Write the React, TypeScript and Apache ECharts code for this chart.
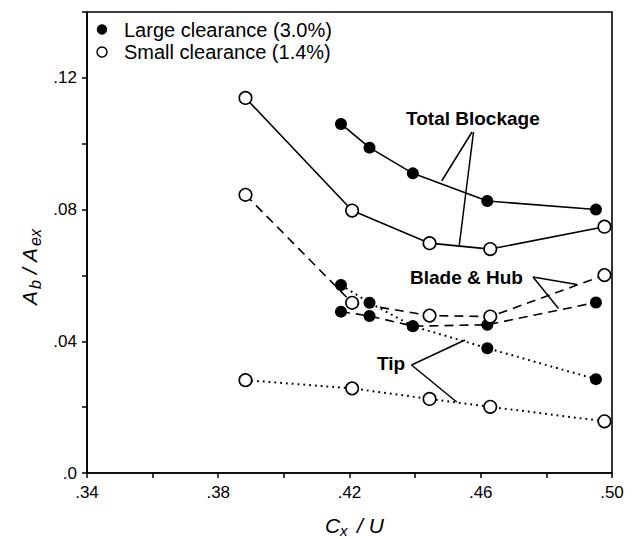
import React, { useEffect, useRef } from "react";
import * as echarts from "echarts";

// Data
const largeX = [0.4174, 0.4261, 0.4393, 0.462, 0.4951];
const smallX = [0.3883, 0.4208, 0.4444, 0.4629, 0.4977];
const largeTotal = [0.106, 0.0988, 0.091, 0.0826, 0.08];
const smallTotal = [0.1139, 0.0797, 0.0698, 0.068, 0.0748];
const largeBladeHub = [0.049, 0.0477, 0.0446, 0.045, 0.0518];
const smallBladeHub = [0.0845, 0.0517, 0.0478, 0.0475, 0.0601];
const largeTip = [0.0571, 0.0517, 0.0446, 0.0379, 0.0285];
const smallTip = [0.0282, 0.0257, 0.0225, 0.0201, 0.0157];

const legendLabels = ["Large clearance (3.0%)", "Small clearance (1.4%)"];
const annotationLabels = ["Total Blockage", "Blade & Hub", "Tip"];

const FONT = '"Liberation Sans", Arial, Helvetica, sans-serif';

const SOLID = "solid";
const DASHED = [9, 6];
const DOTTED = [1.8, 4];

function mk(name: string, xs: number[], ys: number[], dash: any, filled: boolean, z: number) {
  return {
    type: "line",
    name,
    data: xs.map((x, i) => [x, ys[i]]),
    symbol: "circle",
    symbolSize: filled ? 12 : 12.5,
    showAllSymbol: true,
    z,
    lineStyle: { color: "#000", width: dash === DOTTED ? 2 : 1.6, type: dash },
    itemStyle: {
      color: filled ? "#000" : "#fff",
      borderColor: "#000",
      borderWidth: filled ? 0 : 1.6,
      opacity: 1,
    },
    emphasis: { disabled: true },
  };
}

function leader(x1: number, y1: number, x2: number, y2: number) {
  return {
    type: "line",
    shape: { x1, y1, x2, y2 },
    style: { stroke: "#000", lineWidth: 1.5 },
    z: 100,
  };
}

export default function App() {
  const ref = useRef<HTMLDivElement>(null);
  useEffect(() => {
    if (!ref.current) return;
    const chart = echarts.init(ref.current, undefined, { renderer: "svg" });
    const option: any = {
      animation: false,
      backgroundColor: "#fff",
      grid: {
        left: 87,
        right: 20,
        top: 12,
        bottom: 66,
        show: true,
        borderColor: "#000",
        borderWidth: 1.6,
        backgroundColor: "transparent",
      },
      xAxis: {
        type: "value",
        min: 0.34,
        max: 0.5,
        interval: 0.02,
        splitLine: { show: false },
        axisLine: { show: true, lineStyle: { color: "#000", width: 1.6 } },
        axisTick: { show: true, inside: false, length: 5, lineStyle: { color: "#000", width: 1.5 } },
        axisLabel: {
          margin: 11,
          color: "#000",
          fontSize: 17,
          fontFamily: FONT,
          showMaxLabel: true,
          showMinLabel: true,
          formatter: (v: number) => {
            const k = Math.round((v - 0.34) * 100);
            return k % 4 === 0 ? "." + Math.round(v * 100) : "";
          },
        },
      },
      yAxis: {
        type: "value",
        min: 0,
        max: 0.14,
        interval: 0.02,
        splitLine: { show: false },
        axisLine: { show: true, lineStyle: { color: "#000", width: 1.6 } },
        axisTick: { show: true, inside: false, length: 5, lineStyle: { color: "#000", width: 1.5 } },
        axisLabel: {
          margin: 10,
          color: "#000",
          fontSize: 17,
          fontFamily: FONT,
          formatter: (v: number) => {
            const k = Math.round(v * 100);
            if (k % 4 !== 0) return "";
            return k === 0 ? ".0" : "." + String(k).padStart(2, "0");
          },
        },
      },
      series: [
        mk("Large tip", largeX, largeTip, DOTTED, true, 2),
        mk("Large blade & hub", largeX, largeBladeHub, DASHED, true, 3),
        mk("Large total", largeX, largeTotal, SOLID, true, 4),
        mk("Small tip", smallX, smallTip, DOTTED, false, 5),
        mk("Small blade & hub", smallX, smallBladeHub, DASHED, false, 6),
        mk("Small total", smallX, smallTotal, SOLID, false, 7),
      ],
      graphic: [
        // legend
        { type: "circle", shape: { cx: 102, cy: 29.5, r: 5.2 }, style: { fill: "#000" }, z: 100 },
        { type: "circle", shape: { cx: 102, cy: 52, r: 5 }, style: { fill: "#fff", stroke: "#000", lineWidth: 1.5 }, z: 100 },
        {
          type: "text", x: 124, y: 29.5, z: 100,
          style: { text: legendLabels[0], fill: "#000", font: `20px ${FONT}`, verticalAlign: "middle", align: "left" },
        },
        {
          type: "text", x: 124, y: 52, z: 100,
          style: { text: legendLabels[1], fill: "#000", font: `20px ${FONT}`, verticalAlign: "middle", align: "left" },
        },
        // annotations
        {
          type: "text", x: 406, y: 118, z: 100,
          style: { text: annotationLabels[0], fill: "#000", font: `bold 19px ${FONT}`, verticalAlign: "middle", align: "left" },
        },
        leader(472, 132, 441.7, 181),
        leader(473.5, 132, 459.3, 245),
        {
          type: "text", x: 410, y: 277, z: 100,
          style: { text: annotationLabels[1], fill: "#000", font: `bold 19px ${FONT}`, verticalAlign: "middle", align: "left" },
        },
        leader(533, 277, 577, 284.5),
        leader(533, 277, 558.5, 308.5),
        {
          type: "text", x: 377, y: 363, z: 100,
          style: { text: annotationLabels[2], fill: "#000", font: `bold 19px ${FONT}`, verticalAlign: "middle", align: "left" },
        },
        leader(411.5, 365, 465, 340),
        leader(411.5, 365, 456.7, 402),
        // x axis title  C_x / U
        {
          type: "group", x: 325, y: 525, z: 100,
          children: [
            { type: "text", x: 0, y: 0, style: { text: "C", fill: "#000", font: `italic 21px ${FONT}`, verticalAlign: "middle" } },
            { type: "text", x: 15, y: 5, style: { text: "x", fill: "#000", font: `italic 15px ${FONT}`, verticalAlign: "middle" } },
            { type: "text", x: 32, y: 0, style: { text: "/ U", fill: "#000", font: `italic 21px ${FONT}`, verticalAlign: "middle" } },
          ],
        },
        // y axis title  A_b / A_ex (rotated)
        {
          type: "group", x: 29, y: 305, rotation: Math.PI / 2, z: 100,
          children: [
            { type: "text", x: 0, y: 0, style: { text: "A", fill: "#000", font: `italic 21px ${FONT}`, verticalAlign: "middle" } },
            { type: "text", x: 16, y: 6, style: { text: "b", fill: "#000", font: `italic 16px ${FONT}`, verticalAlign: "middle" } },
            { type: "text", x: 31, y: 0, style: { text: "/", fill: "#000", font: `italic 21px ${FONT}`, verticalAlign: "middle" } },
            { type: "text", x: 43, y: 0, style: { text: "A", fill: "#000", font: `italic 21px ${FONT}`, verticalAlign: "middle" } },
            { type: "text", x: 59, y: 6, style: { text: "ex", fill: "#000", font: `italic 16px ${FONT}`, verticalAlign: "middle" } },
          ],
        },
      ],
    };
    chart.setOption(option);
    return () => chart.dispose();
  }, []);
  return (
    <div
      ref={ref}
      style={{ position: "absolute", left: 0, top: 0, width: 632, height: 539, background: "#fff" }}
    />
  );
}
